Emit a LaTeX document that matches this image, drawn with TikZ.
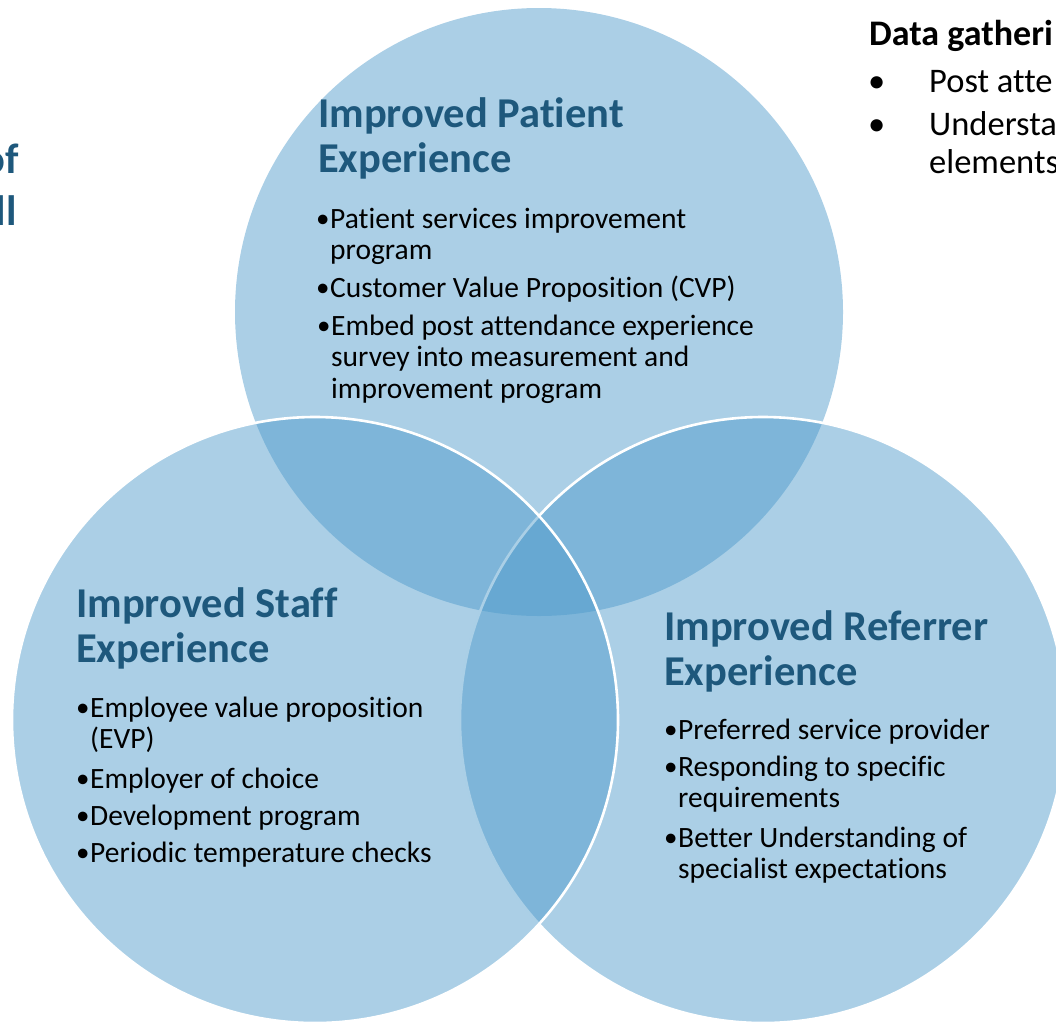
\documentclass[tikz,border=0pt]{standalone}
\usepackage{fontspec}
\setmainfont[Ligatures={NoCommon,NoContextual}]{Carlito}
\definecolor{ringblue}{RGB}{76,153,202}
\definecolor{headblue}{RGB}{30,88,124}
% stacked lines whose reference point is the first baseline
\newcommand{\stackrows}[1]{\vtop{\def\\{\egroup\hbox\bgroup}\hbox\bgroup#1\egroup}}
\tikzset{
  x=1pt, y=-1pt,
  ring/.style={fill=ringblue, fill opacity=0.47},
  ringedge/.style={draw=white, line width=2.6pt, fill=ringblue, fill opacity=0.47},
  heading/.style={anchor=base west, inner sep=0pt, text=headblue,
    font=\fontsize{42.5}{45.5}\selectfont\bfseries},
  dot/.style={anchor=base west, inner sep=0pt, font=\fontsize{27}{31.5}\selectfont},
  item/.style={anchor=base west, inner sep=0pt, font=\fontsize{29.5}{31.5}\selectfont},
  sidehead/.style={anchor=base west, inner sep=0pt, font=\fontsize{36}{40}\selectfont\bfseries},
  sideitem/.style={anchor=base west, inner sep=0pt, font=\fontsize{34.5}{38}\selectfont},
}
\begin{document}
\begin{tikzpicture}
\useasboundingbox (0,0) rectangle (1056,1031);
\clip (0,0) rectangle (1056,1031);

% three overlapping circles: patient (top), referrer (right), staff (left)
\path[ring] (539,312) circle[radius=304];
\path[ringedge] (763,720) circle[radius=303];
\path[ringedge] (315,720) circle[radius=303];

% patient experience
\node[heading] (pt) at (318,127) {\stackrows{Improved Patient\\Experience}};
\node[dot] (pb1) at (316,227) {•};
\node[item] (pi1) at (330,228) {\stackrows{Patient services improvement\\program}};
\node[dot] (pb2) at (316,296) {•};
\node[item] (pi2) at (330,297) {Customer Value Proposition (CVP)};
\node[dot] (pb3) at (317,334) {•};
\node[item] (pi3) at (331,335) {\stackrows{Embed post attendance experience\\survey into measurement and\\improvement program}};

% staff experience
\node[heading] (st) at (76,617) {\stackrows{Improved Staff\\Experience}};
\node[dot] (sb1) at (76,716) {•};
\node[item] (si1) at (90,717) {\stackrows{Employee value proposition\\(EVP)}};
\node[dot] (sb2) at (76,787) {•};
\node[item] (si2) at (90,788) {Employer of choice};
\node[dot] (sb3) at (76,824) {•};
\node[item] (si3) at (90,825) {Development program};
\node[dot] (sb4) at (76,861) {•};
\node[item] (si4) at (90,862) {Periodic temperature checks};

% referrer experience
\node[heading] (rt) at (664,640) {\stackrows{Improved Referrer\\Experience}};
\node[dot] (rb1) at (664,738) {•};
\node[item] (ri1) at (678,739) {Preferred service provider};
\node[dot] (rb2) at (664,775) {•};
\node[item] (ri2) at (678,776) {\stackrows{Responding to specific\\requirements}};
\node[dot] (rb3) at (664,846) {•};
\node[item] (ri3) at (678,847) {\stackrows{Better Understanding of\\specialist expectations}};

% side text running off the edges
\node[heading, anchor=base east] (lo1) at (19,173) {of};
\node[heading, anchor=base east] (lo2) at (17,225) {ll};
\node[sidehead] (dg) at (869,45) {Data gatheri};
\node[sideitem] (db1) at (868,92) {•};
\node[sideitem] (dt1) at (929,92) {Post atte};
\node[sideitem] (db2) at (868,135) {•};
\node[sideitem] (dt2) at (929,135) {Understa};
\node[sideitem] (dt3) at (929,173) {elements};
\end{tikzpicture}
\end{document}
